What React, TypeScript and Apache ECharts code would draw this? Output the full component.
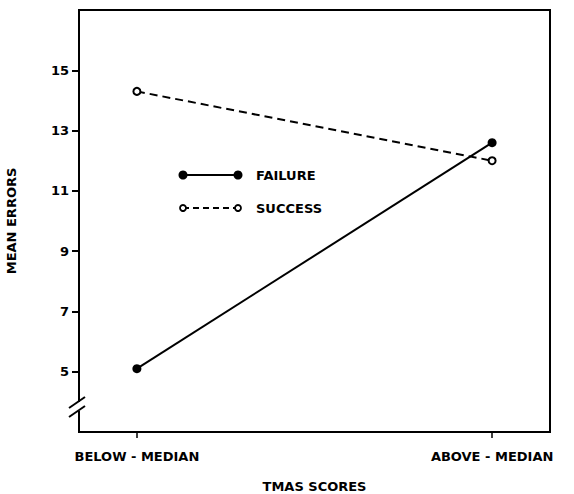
import React, { useEffect, useRef } from "react";
import * as echarts from "echarts";

const categories = ["BELOW - MEDIAN", "ABOVE - MEDIAN"];
const failureValues = [5.1, 12.6];
const successValues = [14.3, 12.0];
const yTicks = [5, 7, 9, 11, 13, 15];
const seriesNames = ["FAILURE", "SUCCESS"];

const FONT = "DejaVu Sans";
const FS = 13;

export default function App() {
  const ref = useRef<HTMLDivElement>(null);
  useEffect(() => {
    if (!ref.current) return;
    const chart = echarts.init(ref.current, null, { renderer: "svg" });
    const xPos = categories.map((_, i) => i);
    const textStyle = { color: "#000", fontFamily: FONT, fontWeight: "bold", fontSize: FS };
    const option: any = {
      animation: false,
      backgroundColor: "#fff",
      grid: {
        left: 79,
        right: 24,
        top: 10,
        bottom: 62,
        show: true,
        borderColor: "#000",
        borderWidth: 2,
        containLabel: false,
        outerBoundsMode: "none",
      },
      xAxis: {
        type: "value",
        min: -0.163,
        max: 1.163,
        splitLine: { show: false },
        axisLine: { show: true, onZero: false, lineStyle: { color: "#000", width: 2 } },
        axisTick: {
          show: true,
          customValues: xPos,
          length: 6,
          lineStyle: { color: "#000", width: 1.5 },
        },
        axisLabel: {
          customValues: xPos,
          formatter: (v: number) => categories[Math.round(v)] ?? "",
          margin: 18,
          ...textStyle,
        },
        name: "TMAS SCORES",
        nameLocation: "middle",
        nameGap: 48,
        nameTextStyle: textStyle,
      },
      yAxis: {
        type: "value",
        min: 3,
        max: 17,
        splitLine: { show: false },
        axisLine: { show: true, onZero: false, lineStyle: { color: "#000", width: 2 } },
        axisTick: {
          show: true,
          customValues: yTicks,
          length: 7,
          lineStyle: { color: "#000", width: 2 },
        },
        axisLabel: {
          customValues: yTicks,
          margin: 10,
          ...textStyle,
        },
        name: "MEAN ERRORS",
        nameLocation: "middle",
        nameGap: 61,
        nameTextStyle: textStyle,
      },
      series: [
        {
          name: seriesNames[0],
          type: "line",
          data: failureValues.map((v, i) => [xPos[i], v]),
          symbol: "circle",
          symbolSize: 9,
          lineStyle: { color: "#000", width: 2 },
          itemStyle: { color: "#000", borderColor: "#000", borderWidth: 0 },
          z: 3,
        },
        {
          name: seriesNames[1],
          type: "line",
          data: successValues.map((v, i) => [xPos[i], v]),
          symbol: "circle",
          symbolSize: 7,
          lineStyle: { color: "#000", width: 2, type: [8, 5] },
          itemStyle: { color: "#fff", borderColor: "#000", borderWidth: 2 },
          z: 3,
        },
      ],
    };
    chart.setOption(option);

    // axis break and legend as graphic decorations
    const axX = chart.convertToPixel({ gridIndex: 0 }, [-0.163, 3])[0];
    const c = chart.convertToPixel({ gridIndex: 0 }, [0, 3.83])[1];
    const legText = { fill: "#000", fontFamily: FONT, fontWeight: "bold", fontSize: FS };
    chart.setOption({
      graphic: [
        {
          type: "rect",
          shape: { x: axX - 2, y: c - 5, width: 4, height: 9 },
          style: { fill: "#fff" },
          z: 100,
        },
        {
          type: "line",
          shape: { x1: axX - 10, y1: c + 1, x2: axX + 6, y2: c - 10 },
          style: { stroke: "#000", lineWidth: 2 },
          z: 101,
        },
        {
          type: "line",
          shape: { x1: axX - 10, y1: c + 10, x2: axX + 6, y2: c - 1 },
          style: { stroke: "#000", lineWidth: 2 },
          z: 101,
        },
        // legend: failure
        { type: "line", shape: { x1: 183, y1: 175, x2: 238, y2: 175 }, style: { stroke: "#000", lineWidth: 2 }, z: 100 },
        { type: "circle", shape: { cx: 183, cy: 175, r: 4.5 }, style: { fill: "#000" }, z: 101 },
        { type: "circle", shape: { cx: 238, cy: 175, r: 4.5 }, style: { fill: "#000" }, z: 101 },
        { type: "text", x: 256, y: 175, style: { ...legText, text: seriesNames[0], verticalAlign: "middle" }, z: 101 },
        // legend: success
        { type: "line", shape: { x1: 183, y1: 208, x2: 238, y2: 208 }, style: { stroke: "#000", lineWidth: 2, lineDash: [6, 4] }, z: 100 },
        { type: "circle", shape: { cx: 183, cy: 208, r: 3 }, style: { fill: "#fff", stroke: "#000", lineWidth: 1.8 }, z: 101 },
        { type: "circle", shape: { cx: 238, cy: 208, r: 3 }, style: { fill: "#fff", stroke: "#000", lineWidth: 1.8 }, z: 101 },
        { type: "text", x: 256, y: 208, style: { ...legText, text: seriesNames[1], verticalAlign: "middle" }, z: 101 },
      ],
    });

    return () => chart.dispose();
  }, []);
  return (
    <div
      ref={ref}
      style={{ position: "absolute", left: 0, top: 0, width: 574, height: 494 }}
    />
  );
}
